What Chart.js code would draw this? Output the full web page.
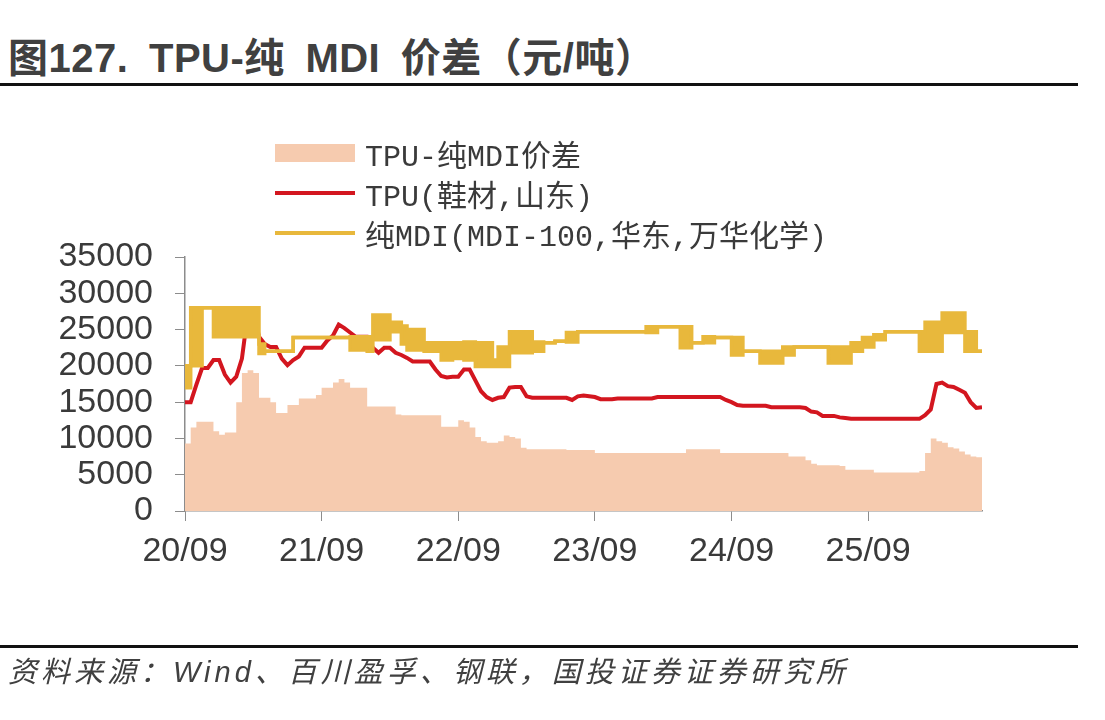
<!DOCTYPE html>
<html>
<head>
<meta charset="utf-8">
<script src="https://cdn.jsdelivr.net/npm/chart.js@4.4.1/dist/chart.umd.min.js"></script>
<style>
  html, body { margin: 0; padding: 0; background: #fff; }
  body { width: 1105px; height: 720px; position: relative; overflow: hidden; }
  #title {
    position: absolute; left: 8px; top: 26px;
    font: bold 40px "Liberation Sans", "Noto Sans CJK SC", sans-serif;
    color: #404040; white-space: nowrap; letter-spacing: 0.5px; word-spacing: 9px;
  }
  .rule { position: absolute; left: 0; width: 1078px; height: 3px; background: #111; }
  #legend {
    position: absolute; left: 275px; top: 133px;
    font: 30px "Liberation Mono", "Noto Sans CJK SC", monospace;
    color: #3a3a3a;
  }
  .item { height: 40px; display: flex; align-items: center; white-space: nowrap; }
  .sym { width: 80px; margin-right: 10px; }
  #source {
    position: absolute; left: 8px; top: 648px;
    font: italic 29px "Liberation Sans", "Noto Sans CJK SC", sans-serif;
    letter-spacing: 4px; color: #404040; white-space: nowrap;
  }
  #wrap { position: absolute; left: 0; top: 0; width: 1105px; height: 720px; }
</style>
</head>
<body>
<div id="title">图127. TPU-纯 MDI 价差（元/吨）</div>
<div class="rule" style="top:83px"></div>
<div id="wrap"><canvas id="chart" width="1105" height="720"></canvas></div>
<div id="legend"></div>
<div class="rule" style="top:645px"></div>
<div id="source">资料来源：Wind、百川盈孚、钢联，国投证券证券研究所</div>

<script>
// TPU vs pure MDI price spread, half-month samples from 2020/09

var tickPos = [0, 24, 48, 72, 96, 120];
var tickLabels = ['20/09', '21/09', '22/09', '23/09', '24/09', '25/09'];
var yTicks = [0, 5000, 10000, 15000, 20000, 25000, 30000, 35000];

// TPU-纯MDI价差 (area)
var spread = [
  9500, 9300, 11500, 12300, 12300, 12300, 11000, 10500, 10800, 10800,
  15000, 19000, 19400, 19000, 15600, 15600, 15000, 13500, 13500, 14600,
  14600, 15500, 15500, 15500, 16000, 17000, 17000, 17700, 18200, 17700,
  17000, 17000, 17000, 14400, 14400, 14400, 14400, 14400, 13300, 13200,
  13200, 13200, 13200, 13200, 13200, 13200, 11600, 11600, 11600, 12500,
  12300, 11500, 10200, 9600, 9400, 9400, 9600, 10400, 10200, 10000,
  8700, 8500, 8500, 8500, 8500, 8500, 8500, 8500, 8400, 8400,
  8400, 8400, 8400, 8000, 8000, 8000, 8000, 8000, 8000, 8000,
  8000, 8000, 8000, 8000, 8000, 8000, 8000, 8000, 8000, 8500,
  8500, 8500, 8500, 8500, 8500, 8000, 8000, 8000, 8000, 8000,
  8000, 8000, 8000, 8000, 8000, 8000, 8000, 7500, 7500, 7500,
  7000, 6500, 6300, 6300, 6300, 6300, 6200, 5700, 5700, 5700,
  5700, 5700, 5300, 5300, 5300, 5300, 5300, 5300, 5300, 5300,
  5500, 8000, 10000, 9600, 9400, 8800, 8600, 8200, 7800, 7500,
  7400
];

// TPU(鞋材,山东)
var tpu = [
  15000, 15000, 17400, 19700, 19700, 20800, 20800, 18800, 17700, 18500,
  21000, 27000, 27700, 24000, 23000, 22600, 22600, 21000, 20100, 20800,
  21300, 22500, 22500, 22500, 22500, 23500, 24200, 25700, 25200, 24600,
  24000, 24000, 24000, 22500, 21800, 22500, 22500, 21800, 21500, 21100,
  20600, 20600, 20600, 20600, 19500, 18600, 18400, 18500, 18500, 19500,
  19500, 18000, 16500, 15700, 15300, 15600, 15700, 17000, 17100, 17100,
  15800, 15600, 15600, 15600, 15600, 15600, 15600, 15600, 15300, 15800,
  15900, 15800, 15700, 15400, 15400, 15400, 15500, 15500, 15500, 15500,
  15500, 15500, 15500, 15700, 15700, 15700, 15700, 15700, 15700, 15700,
  15700, 15700, 15700, 15700, 15700, 15300, 15000, 14600, 14500, 14500,
  14500, 14500, 14500, 14300, 14300, 14300, 14300, 14300, 14300, 14200,
  13700, 13600, 13100, 13100, 13100, 12900, 12800, 12700, 12700, 12700,
  12700, 12700, 12700, 12700, 12700, 12700, 12700, 12700, 12700, 12700,
  13200, 14000, 17500, 17700, 17200, 17100, 16700, 16300, 15000, 14200,
  14300
];

// 纯MDI(MDI-100,华东,万华化学): upper and lower edge of the daily swings
var mdiHigh = [
  20000, 20000, 28000, 28000, 28000, 28000, 28000, 28000, 28000, 28000,
  28000, 28000, 28000, 28000, 23000, 22000, 22000, 22000, 22000, 22000,
  23900, 23900, 23900, 23900, 23900, 23900, 23900, 23900, 23900, 23900,
  24000, 24000, 24000, 24000, 27000, 27000, 27000, 26000, 26000, 25500,
  25000, 25000, 25000, 23200, 23200, 23200, 23200, 23200, 23200, 23200,
  23300, 23300, 23200, 23200, 23200, 20800, 22600, 22600, 24700, 24700,
  24700, 24700, 23300, 23300, 23200, 23200, 23400, 23400, 24600, 24600,
  24700, 24700, 24700, 24700, 24700, 24700, 24700, 24700, 24700, 24700,
  24700, 24700, 25400, 25400, 25400, 25400, 25400, 25400, 25400, 25400,
  23200, 23200, 24000, 24000, 23900, 23900, 23900, 23900, 23900, 22000,
  22000, 22000, 22000, 22000, 22000, 22000, 22600, 22600, 22600, 22600,
  22600, 22600, 22600, 22600, 22600, 22600, 22600, 22600, 23200, 23200,
  23900, 23900, 24300, 24300, 24700, 24700, 24700, 24700, 24700, 24700,
  24700, 26000, 26000, 26000, 27300, 27300, 27300, 27300, 24700, 24700,
  22000
];
var mdiLow = [
  17500, 17000, 20000, 20000, 28000, 28000, 24000, 24000, 24000, 24000,
  24000, 24000, 24000, 24000, 21700, 22000, 22000, 22000, 22000, 22000,
  23900, 23900, 23900, 23900, 23900, 23900, 23900, 23900, 23900, 23900,
  22200, 22200, 22200, 22000, 23600, 23600, 23600, 24700, 24700, 23000,
  22200, 22200, 22200, 22000, 22000, 22000, 20800, 20800, 21000, 21000,
  20800, 20800, 19900, 19900, 19900, 19900, 19900, 19900, 21800, 21800,
  21800, 21800, 22000, 22000, 23200, 23200, 23400, 23400, 23300, 23300,
  24700, 24700, 24700, 24700, 24700, 24700, 24700, 24700, 24700, 24700,
  24700, 24700, 24600, 24600, 25400, 25400, 25400, 25400, 22500, 22500,
  23200, 23200, 23200, 23200, 23900, 23900, 23900, 21500, 21500, 22000,
  22000, 22000, 20400, 20400, 20400, 20400, 21500, 21500, 22600, 22600,
  22600, 22600, 22600, 22600, 20400, 20400, 20400, 20400, 22000, 22000,
  22600, 22600, 23600, 23600, 24700, 24700, 24700, 24700, 24700, 24700,
  22000, 22000, 22000, 22000, 24600, 24600, 24600, 24600, 22000, 22000,
  22000
];

var names = ['TPU-纯MDI价差', 'TPU(鞋材,山东)', '纯MDI(MDI-100,华东,万华化学)'];
var colSpread = '#F6CBAF', colTpu = '#D3161F', colMdi = '#E8B83C';

function pts(arr) {
  return arr.map(function (v, i) { return { x: i, y: v }; });
}

// legend as html
var leg = document.getElementById('legend');
leg.innerHTML =
  '<div class="item"><span class="sym" style="height:18px;background:' + colSpread + '"></span>' + names[0] + '</div>' +
  '<div class="item"><span class="sym" style="height:4px;background:' + colTpu + '"></span>' + names[1] + '</div>' +
  '<div class="item"><span class="sym" style="height:4px;background:' + colMdi + '"></span>' + names[2] + '</div>';

var axisGrey = '#8c8c8c';
var tickFont = { family: '"Liberation Sans", Arial, sans-serif', size: 34 };

new Chart(document.getElementById('chart').getContext('2d'), {
  type: 'line',
  data: {
    datasets: [
      { label: names[2], data: pts(mdiLow), borderColor: colMdi, borderWidth: 3.5,
        stepped: 'after', pointRadius: 0, fill: false, order: 0 },
      { label: names[2] + ' high', data: pts(mdiHigh), borderColor: colMdi, borderWidth: 3.5,
        backgroundColor: colMdi, stepped: 'after', pointRadius: 0, fill: 0, order: 0 },
      { label: names[1], data: pts(tpu), borderColor: colTpu, borderWidth: 4,
        tension: 0, pointRadius: 0, fill: false, order: 1 },
      { label: names[0], data: pts(spread), borderWidth: 0, borderColor: colSpread,
        backgroundColor: colSpread, stepped: 'after', pointRadius: 0, fill: 'origin', order: 2 }
    ]
  },
  options: {
    responsive: false,
    animation: false,
    layout: { padding: { left: 0, top: 257, right: 123, bottom: 149 } },
    plugins: { legend: { display: false }, tooltip: { enabled: false } },
    scales: {
      x: {
        type: 'linear', min: 0, max: spread.length - 1,
        afterBuildTicks: function (s) { s.ticks = tickPos.map(function (v) { return { value: v }; }); },
        afterFit: function (s) { s.height = 60; },
        ticks: {
          autoSkip: false, maxRotation: 0, padding: 10, color: '#3a3a3a', font: tickFont,
          callback: function (v) { return tickLabels[tickPos.indexOf(v)]; }
        },
        grid: { drawOnChartArea: false, drawTicks: true, tickLength: 10, color: axisGrey },
        border: { display: true, color: axisGrey, width: 1.5 }
      },
      y: {
        min: 0, max: 35000,
        afterBuildTicks: function (s) { s.ticks = yTicks.map(function (v) { return { value: v }; }); },
        afterFit: function (s) { s.width = 185; },
        ticks: { autoSkip: false, padding: 22, color: '#3a3a3a', font: tickFont,
          callback: function (v) { return String(v); } },
        grid: { drawOnChartArea: false, drawTicks: true, tickLength: 10, color: axisGrey },
        border: { display: true, color: axisGrey, width: 1.5 }
      }
    }
  }
});
</script>
</body>
</html>
